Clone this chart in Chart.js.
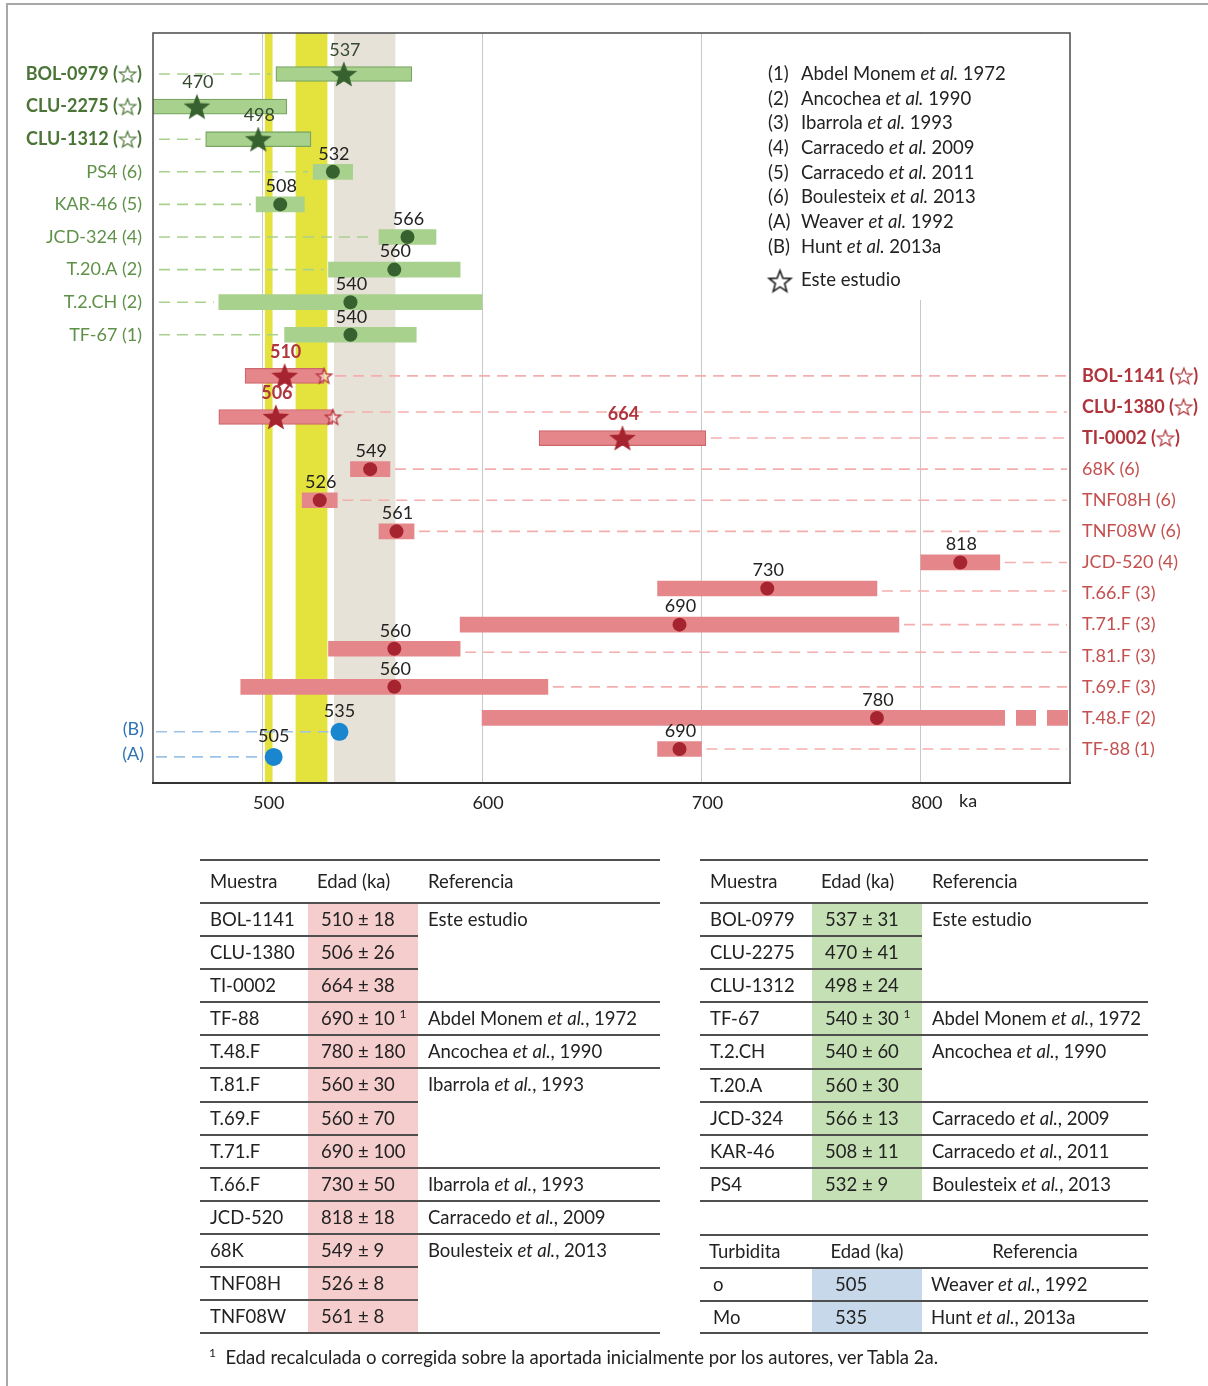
<!DOCTYPE html>
<html lang="es">
<head>
<meta charset="utf-8">
<title>Edades de las muestras</title>
<script src="https://cdn.jsdelivr.net/npm/chart.js@4.4.1/dist/chart.umd.min.js"></script>
<style>
  html, body { margin: 0; padding: 0; background: #fff; }
  body { width: 1208px; height: 1386px; position: relative; overflow: hidden;
         font-family: Lato, 'DejaVu Sans', sans-serif; color: #222; }
  #frame { position: absolute; left: 6px; top: 3px; width: 1400px; height: 1500px;
           border-left: 2px solid #a8a8a8; border-top: 2px solid #a8a8a8; }
  #chartBox { position: absolute; left: 0; top: 0; width: 1208px; height: 830px; }
  #tables { position: absolute; left: 0; top: 0; width: 1208px; height: 1386px; font-size: 18.5px; }
  #tables div { white-space: nowrap; }
  #tables i { font-style: italic; }
  #tables sup { font-size: 12px; vertical-align: 7px; line-height: 0; }
  #foot { position: absolute; left: 209px; top: 1346px; font-size: 18.5px; white-space: nowrap; }
  #foot sup { font-size: 12px; vertical-align: 7px; line-height: 0; }
</style>
</head>
<body>
<div id="frame"></div>
<div id="chartBox"><canvas id="c" width="1208" height="830"></canvas></div>
<div id="tables"></div>
<div id="foot"><sup>1</sup>&nbsp; Edad recalculada o corregida sobre la aportada inicialmente por los autores, ver Tabla 2a.</div>
<script>
// ---------- data ----------
const greenSamples = ['BOL-0979', 'CLU-2275', 'CLU-1312', 'PS4', 'KAR-46', 'JCD-324', 'T.20.A', 'T.2.CH', 'TF-67'];
const greenAges    = [537, 470, 498, 532, 508, 566, 560, 540, 540];
const greenErrors  = [31, 41, 24, 9, 11, 13, 30, 60, 30];
const greenRefs    = ['☆', '☆', '☆', '6', '5', '4', '2', '2', '1'];

const redSamples = ['BOL-1141', 'CLU-1380', 'TI-0002', '68K', 'TNF08H', 'TNF08W', 'JCD-520', 'T.66.F', 'T.71.F', 'T.81.F', 'T.69.F', 'T.48.F', 'TF-88'];
const redAges    = [510, 506, 664, 549, 526, 561, 818, 730, 690, 560, 560, 780, 690];
const redErrors  = [18, 26, 38, 9, 8, 8, 18, 50, 100, 30, 70, 180, 10];
const redRefs    = ['☆', '☆', '☆', '6', '6', '6', '4', '3', '3', '3', '3', '2', '1'];
const redUpperMarks = ['BOL-1141', 'CLU-1380'];

const turbiditeKeys   = ['(B)', '(A)'];
const turbiditeNames  = ['Mo', 'o'];
const turbiditeAges   = [535, 505];

const bandStart = [501, 515, 532.5];
const bandEnd   = [504.5, 529.5, 560.5];

const xTicks = [500, 600, 700, 800];
const xUnit = 'ka';

const legendKeys    = ['(1)', '(2)', '(3)', '(4)', '(5)', '(6)', '(A)', '(B)'];
const legendAuthors = ['Abdel Monem', 'Ancochea', 'Ibarrola', 'Carracedo', 'Carracedo', 'Boulesteix', 'Weaver', 'Hunt'];
const legendYears   = ['1972', '1990', '1993', '2009', '2011', '2013', '1992', '2013a'];
const legendOwn     = 'Este estudio';

const recalculated = ['TF-88', 'TF-67'];

// ---------- chart ----------
const FONT = "Lato, 'DejaVu Sans', sans-serif";
const X_MIN = 450, X_MAX = 868;
const PX_PER_ROW = 32.6;

// vertical slots in row units: green rows, then the red rows packed a little tighter
const greenSlot = i => i;
const redSlot = j => 9.26 + j * 0.954;
const turbSlot = [20.18, 20.95];
// a few red intervals sit slightly off their name row (pixels)
const redRowShift = { 'CLU-1380': 10, 'T.66.F': -5, 'T.81.F': -7 };
const redMarkSlot = j => redSlot(j) + (redRowShift[redSamples[j]] || 0) / PX_PER_ROW;

function starImage(r, fill, stroke, lw) {
  const s = Math.ceil(2 * r + 2 * lw + 4);
  const c = document.createElement('canvas');
  c.width = c.height = s;
  const g = c.getContext('2d');
  g.translate(s / 2, s / 2 + r * 0.09);
  g.beginPath();
  for (let k = 0; k < 10; k++) {
    const rad = k % 2 === 0 ? r : r * 0.42;
    const a = -Math.PI / 2 + k * Math.PI / 5;
    g.lineTo(rad * Math.cos(a), rad * Math.sin(a));
  }
  g.closePath();
  if (fill) { g.fillStyle = fill; g.fill(); }
  if (stroke) { g.strokeStyle = stroke; g.lineWidth = lw; g.lineJoin = 'miter'; g.stroke(); }
  return c;
}

const GREEN_DARK = '#386130';
const RED_DARK = '#a6242f';
const greenStar = starImage(14, GREEN_DARK, null, 0);
const redStar = starImage(14, RED_DARK, null, 0);
const redHollow = starImage(8, 'rgba(255,235,235,0.6)', '#b8333b', 1.3);

const isOwn = r => r === '☆';

const greenBars = greenSamples.map((s, i) => ({ y: greenSlot(i), x: [greenAges[i] - greenErrors[i], greenAges[i] + greenErrors[i]] }));
const redBars = redSamples.map((s, i) => ({ y: redMarkSlot(i), x: [redAges[i] - redErrors[i], redAges[i] + redErrors[i]] }));

const pick = (ages, refs, slotFn, own) => ages.map((v, i) => ({ x: v, y: slotFn(i), own: isOwn(refs[i]) })).filter(p => p.own === own);

const datasets = [
  { type: 'scatter', label: 'verde-estrella', data: pick(greenAges, greenRefs, greenSlot, true), pointStyle: greenStar, order: 1 },
  { type: 'scatter', label: 'verde', data: pick(greenAges, greenRefs, greenSlot, false), pointStyle: 'circle', pointRadius: 7, backgroundColor: GREEN_DARK, borderWidth: 0, order: 1 },
  { type: 'scatter', label: 'rojo-estrella', data: pick(redAges, redRefs, redMarkSlot, true), pointStyle: redStar, order: 1 },
  { type: 'scatter', label: 'rojo', data: pick(redAges, redRefs, redMarkSlot, false), pointStyle: 'circle', pointRadius: 7, backgroundColor: RED_DARK, borderWidth: 0, order: 1 },
  { type: 'scatter', label: 'rojo-max', data: redSamples.map((s, i) => ({ x: redAges[i] + redErrors[i], y: redMarkSlot(i), s })).filter(p => redUpperMarks.includes(p.s)), pointStyle: redHollow, order: 1 },
  { type: 'scatter', label: 'turbiditas', data: turbiditeAges.map((v, i) => ({ x: v, y: turbSlot[i] })), pointStyle: 'circle', pointRadius: 9, backgroundColor: '#1a86d0', borderWidth: 0, order: 1 },
  { type: 'bar', label: 'verde-intervalo', data: greenBars, grouped: false, barThickness: 15, order: 3,
    backgroundColor: '#a9d18e', borderColor: '#78a662',
    borderWidth: greenRefs.map(r => isOwn(r) ? 1.3 : 0), borderSkipped: false },
  { type: 'bar', label: 'rojo-intervalo', data: redBars, grouped: false, barThickness: 15, order: 3,
    backgroundColor: '#e5878a', borderColor: '#cf666b',
    borderWidth: redRefs.map(r => isOwn(r) ? 1.2 : 0), borderSkipped: false }
];

function dashed(ctx, x0, x1, y, color) {
  if (x1 <= x0) return;
  ctx.strokeStyle = color;
  ctx.beginPath(); ctx.moveTo(x0, y); ctx.lineTo(x1, y); ctx.stroke();
}

// sample name with its reference tag; the study tag is an outlined star drawn between brackets
function sampleLabel(ctx, name, tag, x, y, align, color, bold) {
  const size = 18;
  ctx.font = `${bold ? '700 ' : ''}${size}px ${FONT}`;
  ctx.fillStyle = color;
  ctx.textAlign = 'left';
  ctx.textBaseline = 'middle';
  const head = `${name} (`;
  const wHead = ctx.measureText(head).width;
  let wTag, star = null;
  if (isOwn(tag)) {
    star = starImage(8.6, null, color, 1.2);
    wTag = 19;
  } else {
    wTag = ctx.measureText(tag).width;
  }
  const wTail = ctx.measureText(')').width;
  const total = wHead + wTag + wTail;
  let x0 = align === 'right' ? x - total : x;
  ctx.fillText(head, x0, y);
  x0 += wHead;
  if (star) ctx.drawImage(star, x0 + wTag / 2 - star.width / 2, y - star.height / 2);
  else ctx.fillText(tag, x0, y);
  x0 += wTag;
  ctx.fillText(')', x0, y);
}

const backdrop = {
  id: 'backdrop',
  beforeDatasetsDraw(chart) {
    const { ctx, chartArea: a, scales: { x, y } } = chart;
    const bandColors = ['#e4e33e', '#e4e33e', '#e6e2d8'];
    ctx.save();
    bandStart.forEach((s, i) => {
      const x0 = x.getPixelForValue(s), x1 = x.getPixelForValue(bandEnd[i]);
      ctx.fillStyle = bandColors[i];
      ctx.fillRect(x0, a.top, x1 - x0, a.bottom - a.top);
    });
    // clear panel behind the reference list
    ctx.fillStyle = '#fff';
    ctx.fillRect(755, a.top + 1, a.right - 756, 266);

    ctx.lineWidth = 1.6;
    ctx.setLineDash([11, 7]);
    greenAges.forEach((v, i) => {
      const lo = x.getPixelForValue(Math.max(X_MIN, v - greenErrors[i]));
      dashed(ctx, a.left + 6, lo - 5, y.getPixelForValue(greenSlot(i)), '#a9d18e');
    });
    redAges.forEach((v, i) => {
      const top = v + redErrors[i];
      if (top >= X_MAX) return;
      const gap = redUpperMarks.includes(redSamples[i]) ? 11 : 5;
      const yy = (y.getPixelForValue(redSlot(i)) + y.getPixelForValue(redMarkSlot(i))) / 2;
      dashed(ctx, x.getPixelForValue(top) + gap, a.right - 3, yy, '#f3aeae');
    });
    turbiditeAges.forEach((v, i) => {
      dashed(ctx, a.left + 3, x.getPixelForValue(v) - 11, y.getPixelForValue(turbSlot[i]), '#9cc3e5');
    });
    ctx.restore();
  }
};

const annotate = {
  id: 'annotate',
  afterDatasetsDraw(chart) {
    const { ctx, chartArea: a, scales: { x, y } } = chart;
    ctx.save();
    // broken ends for intervals running past the axis
    ctx.fillStyle = '#fff';
    redAges.forEach((v, i) => {
      if (v + redErrors[i] <= X_MAX) return;
      const yy = y.getPixelForValue(redMarkSlot(i));
      [[65, 54], [34, 23], [2, 0]].forEach(([p, q]) => ctx.fillRect(a.right - p, yy - 9, p - q, 18));
    });

    // value labels
    ctx.textAlign = 'center';
    ctx.textBaseline = 'middle';
    const label = (v, slot, own, ownColor, bold) => {
      ctx.font = `${own && bold ? '700 ' : ''}18px ${FONT}`;
      ctx.fillStyle = own ? ownColor : '#222';
      ctx.fillText(String(v), x.getPixelForValue(v) + 1, y.getPixelForValue(slot) - (own ? 24 : 18));
    };
    greenAges.forEach((v, i) => label(v, greenSlot(i), isOwn(greenRefs[i]), '#34492f', false));
    redAges.forEach((v, i) => label(v, redMarkSlot(i), isOwn(redRefs[i]), '#b0353c', true));
    turbiditeAges.forEach((v, i) => {
      ctx.font = `18px ${FONT}`; ctx.fillStyle = '#222';
      ctx.fillText(String(v), x.getPixelForValue(v), y.getPixelForValue(turbSlot[i]) - 21);
    });

    // sample names
    greenSamples.forEach((s, i) => {
      const own = isOwn(greenRefs[i]);
      sampleLabel(ctx, s, greenRefs[i], 142, y.getPixelForValue(greenSlot(i)), 'right', own ? '#4a7536' : '#5f9149', own);
    });
    redSamples.forEach((s, i) => {
      const own = isOwn(redRefs[i]);
      sampleLabel(ctx, s, redRefs[i], 1082, y.getPixelForValue(redSlot(i)), 'left', own ? '#b0343b' : '#c4504f', own);
    });
    ctx.textAlign = 'right';
    turbiditeKeys.forEach((k, i) => {
      ctx.font = `18px ${FONT}`;
      ctx.fillStyle = '#2e74b5';
      ctx.fillText(k, 144, y.getPixelForValue(turbSlot[i]) - 3);
    });

    // reference list
    ctx.textAlign = 'left';
    ctx.fillStyle = '#222';
    const LF = 18.5;
    legendKeys.forEach((k, i) => {
      const yy = 74 + i * 24.7;
      ctx.font = `${LF}px ${FONT}`;
      ctx.fillText(k, 768, yy);
      let xx = 801;
      ctx.fillText(legendAuthors[i] + ' ', xx, yy); xx += ctx.measureText(legendAuthors[i] + ' ').width;
      ctx.font = `italic ${LF}px ${FONT}`;
      ctx.fillText('et al.', xx, yy); xx += ctx.measureText('et al.').width;
      ctx.font = `${LF}px ${FONT}`;
      ctx.fillText(' ' + legendYears[i], xx, yy);
    });
    const legendStar = starImage(11.5, null, '#222', 1.6);
    ctx.drawImage(legendStar, 780 - legendStar.width / 2, 281 - legendStar.height / 2);
    ctx.font = `${LF}px ${FONT}`;
    ctx.fillText(legendOwn, 801, 280);

    // axis unit
    ctx.font = `18px ${FONT}`;
    ctx.fillText(xUnit, 959, 801);

    // plot frame
    ctx.strokeStyle = '#4a4a4a';
    ctx.lineWidth = 1.5;
    ctx.strokeRect(a.left, a.top, a.right - a.left, a.bottom - a.top);
    ctx.strokeStyle = '#333';
    ctx.lineWidth = 2;
    ctx.beginPath(); ctx.moveTo(a.left - 1, a.bottom); ctx.lineTo(a.right + 1, a.bottom); ctx.stroke();
    ctx.restore();
  }
};

new Chart(document.getElementById('c'), {
  type: 'bar',
  data: { datasets },
  options: {
    indexAxis: 'y',
    responsive: false,
    animation: false,
    events: [],
    layout: { padding: { left: 153, right: 138, top: 33, bottom: 0 } },
    plugins: { legend: { display: false }, tooltip: { enabled: false } },
    scales: {
      x: {
        type: 'linear', position: 'bottom', min: X_MIN, max: X_MAX, offset: false,
        afterBuildTicks: s => { s.ticks = xTicks.map(v => ({ value: v })); },
        afterFit: s => { s.height = 47; },
        grid: { color: '#c9c9c9', lineWidth: 1, drawTicks: false, offset: false },
        border: { display: false },
        ticks: { padding: 9, labelOffset: 6, color: '#222', autoSkip: false, maxRotation: 0,
                 font: { family: FONT, size: 18 } }
      },
      y: { type: 'linear', min: -1.258, max: 21.75, reverse: true, display: false, offset: false,
           grid: { offset: false } }
    }
  },
  plugins: [backdrop, annotate]
});

// ---------- tables ----------
const layer = document.getElementById('tables');
function addDiv(css, html) {
  const d = document.createElement('div');
  d.style.cssText = 'position:absolute;' + css;
  if (html != null) d.innerHTML = html;
  layer.appendChild(d);
  return d;
}
function hline(x0, x1, y, w) {
  w = w || 2;
  addDiv(`left:${x0}px;top:${(y - w / 2).toFixed(1)}px;width:${x1 - x0}px;height:${w}px;background:#4f4f4f;`);
}
function cellText(x, top, h, html, width, align) {
  addDiv(`left:${x}px;top:${top.toFixed(1)}px;height:${h}px;line-height:${h}px;` +
         (width ? `width:${width}px;text-align:${align};` : ''), html);
}

function ageText(name, names, ages, errs) {
  const i = names.indexOf(name);
  return `${ages[i]} ± ${errs[i]}` + (recalculated.includes(name) ? '&nbsp;<sup>1</sup>' : '');
}

function buildTable(cols, top, headBottom, rowH, groups, fill, names, ages, errs) {
  const [x0, x1, x2, x3] = cols;
  const n = groups.reduce((k, g) => k + g.rows.length, 0);
  const bottom = headBottom + n * rowH;
  addDiv(`left:${x1}px;top:${headBottom}px;width:${x2 - x1}px;height:${bottom - headBottom}px;background:${fill};`);
  const hh = headBottom - top;
  cellText(x0 + 10, top, hh, 'Muestra');
  cellText(x1 + 9, top, hh, 'Edad (ka)');
  cellText(x2 + 10, top, hh, 'Referencia');
  let r = 0;
  groups.forEach(g => g.rows.forEach((s, k) => {
    const yt = headBottom + r * rowH;
    if (r > 0) hline(x0, k === 0 ? x3 : x2, yt);
    cellText(x0 + 10, yt, rowH, s);
    cellText(x1 + 13, yt, rowH, ageText(s, names, ages, errs));
    if (k === 0) cellText(x2 + 10, yt, rowH, g.ref);
    r++;
  }));
  hline(x0, x3, top, 2.5);
  hline(x0, x3, headBottom);
  hline(x0, x3, bottom);
}

const ref = (a, y) => `${a} <i>et al.</i>, ${y}`;

buildTable([200, 308, 418, 660], 860, 903, 33.08, [
  { ref: 'Este estudio', rows: ['BOL-1141', 'CLU-1380', 'TI-0002'] },
  { ref: ref('Abdel Monem', '1972'), rows: ['TF-88'] },
  { ref: ref('Ancochea', '1990'), rows: ['T.48.F'] },
  { ref: ref('Ibarrola', '1993'), rows: ['T.81.F', 'T.69.F', 'T.71.F'] },
  { ref: ref('Ibarrola', '1993'), rows: ['T.66.F'] },
  { ref: ref('Carracedo', '2009'), rows: ['JCD-520'] },
  { ref: ref('Boulesteix', '2013'), rows: ['68K', 'TNF08H', 'TNF08W'] }
], '#f4cdcc', redSamples, redAges, redErrors);

buildTable([700, 812, 922, 1148], 860, 903, 33.1, [
  { ref: 'Este estudio', rows: ['BOL-0979', 'CLU-2275', 'CLU-1312'] },
  { ref: ref('Abdel Monem', '1972'), rows: ['TF-67'] },
  { ref: ref('Ancochea', '1990'), rows: ['T.2.CH', 'T.20.A'] },
  { ref: ref('Carracedo', '2009'), rows: ['JCD-324'] },
  { ref: ref('Carracedo', '2011'), rows: ['KAR-46'] },
  { ref: ref('Boulesteix', '2013'), rows: ['PS4'] }
], '#c5e0b4', greenSamples, greenAges, greenErrors);

// turbidite table
(function () {
  const [x0, x1, x2, x3] = [700, 812, 922, 1148];
  const top = 1235, headBottom = 1268, rowH = 32.5;
  const order = ['o', 'Mo'];
  const refs = { 'o': ref('Weaver', '1992'), 'Mo': ref('Hunt', '2013a') };
  const bottom = headBottom + order.length * rowH;
  addDiv(`left:${x1}px;top:${headBottom}px;width:${x2 - x1}px;height:${bottom - headBottom}px;background:#c7d8ea;`);
  cellText(x0 + 9, top, headBottom - top, 'Turbidita');
  cellText(x1, top, headBottom - top, 'Edad (ka)', x2 - x1, 'center');
  cellText(x2, top, headBottom - top, 'Referencia', x3 - x2, 'center');
  order.forEach((t, k) => {
    const yt = headBottom + k * rowH;
    if (k > 0) hline(x0, x3, yt);
    const i = turbiditeNames.indexOf(t);
    cellText(x0 + 13, yt, rowH, t);
    cellText(x1 + 23, yt, rowH, String(turbiditeAges[i]));
    cellText(x2 + 9, yt, rowH, refs[t]);
  });
  hline(x0, x3, top, 2.5);
  hline(x0, x3, headBottom);
  hline(x0, x3, bottom);
})();
</script>
</body>
</html>
